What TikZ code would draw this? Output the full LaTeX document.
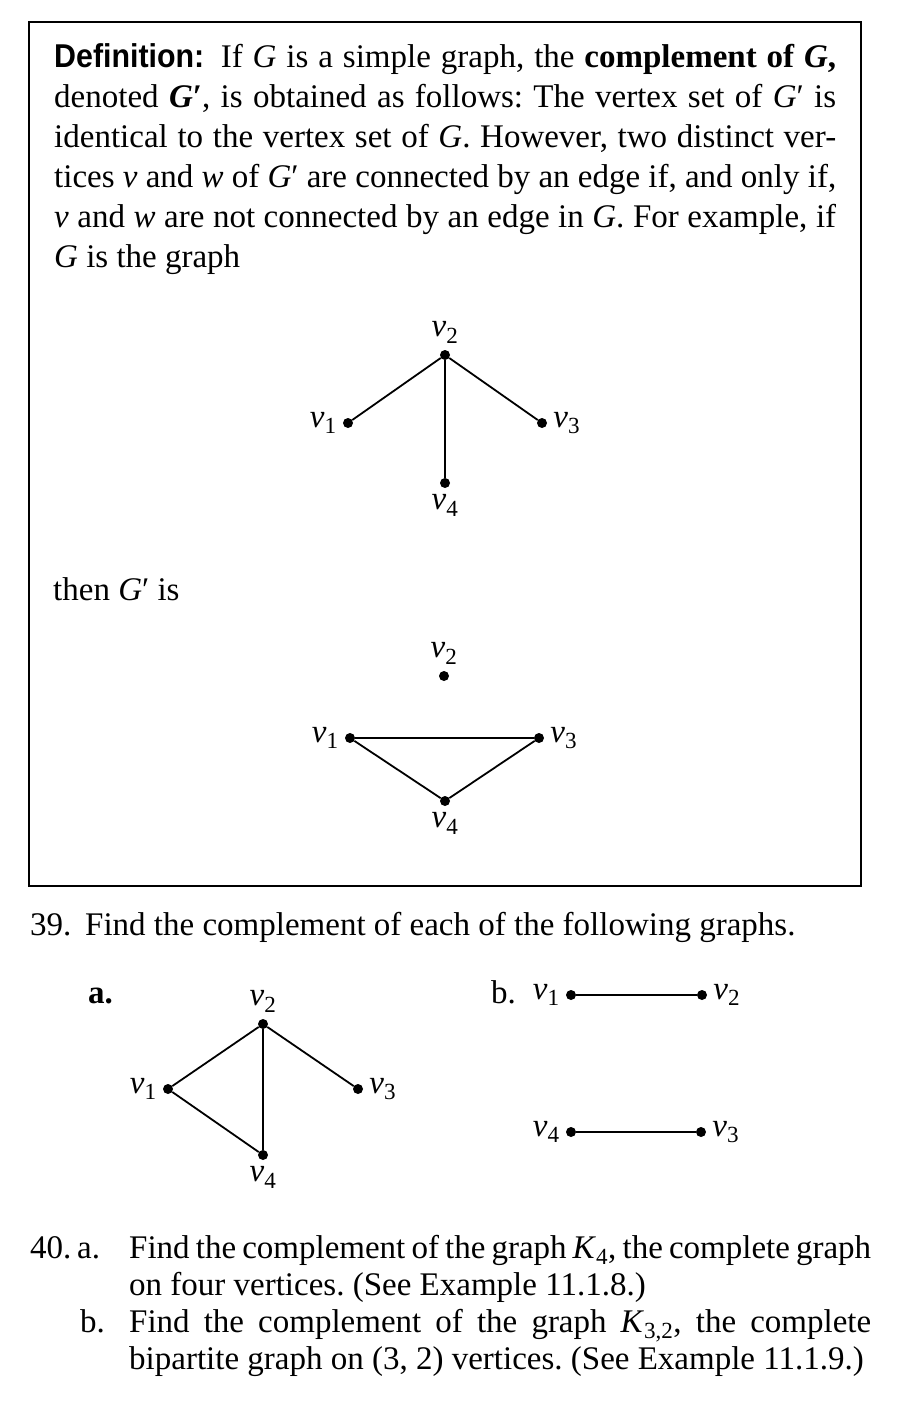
\documentclass[tikz,border=0pt]{standalone}
\usepackage{fontspec}
\setmainfont{Liberation Serif}
\newfontfamily\headfont[FakeStretch=0.92]{Liberation Sans}
\usetikzlibrary{positioning}

\newcommand\vtx[1]{\textit{v}\textsubscript{#1}}
\newcommand\gph[1]{\textit{#1}}

\tikzset{
    dot/.style={circle, fill=black, inner sep=0pt, minimum size=10pt},
    edge/.style={line width=1.8pt},
    txt/.style={inner sep=0pt, anchor=base west, font=\fontsize{33}{40}\selectfont},
    para/.style={txt, text width=#1, align=justify},
    every label/.style={inner sep=0pt, font=\fontsize{33}{40}\selectfont},
    label distance=6pt
}

\begin{document}
\begin{tikzpicture}[x=1pt, y=-1pt]
    \useasboundingbox (0,0) rectangle (918,1404);

    % Definition box
    \draw[line width=2.4pt] (29,22) rectangle (861,886);
    \node[para=782pt] (defn) at (54,68) {\frenchspacing
        {\headfont\bfseries Definition:}\enspace If \gph{G} is a simple graph, the \textbf{complement of \textit{G},}\linebreak
        denoted \textbf{\textit{G}′}, is obtained as follows: The vertex set of \gph{G}′ is\linebreak
        identical to the vertex set of \gph{G}. However, two distinct ver-\linebreak
        tices \textit{v} and \textit{w} of \gph{G}′ are connected by an edge if, and only if,\linebreak
        \textit{v} and \textit{w} are not connected by an edge in \gph{G}. For example, if\linebreak
        \gph{G} is the graph};

    % graph G
    \node[dot, label=above:\vtx{2}] (g2) at (445,355) {};
    \node[dot, label=left:\vtx{1}] (g1) at (348,423) {};
    \node[dot, label=right:\vtx{3}] (g3) at (542,423) {};
    \node[dot, label=below:\vtx{4}] (g4) at (445,483) {};
    \draw[edge] (g1) -- (g2) -- (g3);
    \draw[edge] (g2) -- (g4);

    \node[txt] (then) at (53,600) {then \gph{G}′ is};

    % complement G'
    \node[dot, label=above:\vtx{2}] (h2) at (444,676) {};
    \node[dot, label=left:\vtx{1}] (h1) at (350,738) {};
    \node[dot, label=right:\vtx{3}] (h3) at (539,738) {};
    \node[dot, label=below:\vtx{4}] (h4) at (445,801) {};
    \draw[edge] (h1) -- (h3) -- (h4) -- (h1);

    % exercise 39
    \node[txt] (n39) at (30,935) {39.};
    \node[txt] (q39) at (85,935) {Find the complement of each of the following graphs.};

    % 39 a
    \node[txt] (pa) at (88,1003) {\textbf{a.}};
    \node[dot, label=above:\vtx{2}] (a2) at (263,1024) {};
    \node[dot, label=left:\vtx{1}] (a1) at (168,1089) {};
    \node[dot, label=right:\vtx{3}] (a3) at (358,1089) {};
    \node[dot, label=below:\vtx{4}] (a4) at (263,1155) {};
    \draw[edge] (a1) -- (a2) -- (a3);
    \draw[edge] (a2) -- (a4) -- (a1);

    % 39 b
    \node[txt] (pb) at (491,1003) {b.};
    \node[dot, label=left:\vtx{1}] (b1) at (571,995) {};
    \node[dot, label=right:\vtx{2}] (b2) at (702,995) {};
    \node[dot, label=left:\vtx{4}] (b4) at (571,1132) {};
    \node[dot, label=right:\vtx{3}] (b3) at (701,1132) {};
    \draw[edge] (b1) -- (b2);
    \draw[edge] (b4) -- (b3);

    % exercise 40
    \node[txt] (n40) at (30,1258) {40.};
    \node[txt] (n40a) at (77,1258) {a.};
    \node[para=742pt, font=\fontsize{33}{37}\selectfont] (q40a) at (129,1258) {\frenchspacing
        Find the complement of the graph \textit{K}\textsubscript{4}, the complete graph\linebreak
        on four vertices. (See Example 11.1.8.)};
    \node[txt] (n40b) at (80,1332) {b.};
    \node[para=742pt, font=\fontsize{33}{37}\selectfont] (q40b) at (129,1332) {\frenchspacing
        Find the complement of the graph \textit{K}\textsubscript{3,2}, the complete\linebreak
        bipartite graph on (3, 2) vertices. (See Example 11.1.9.)};
\end{tikzpicture}
\end{document}
